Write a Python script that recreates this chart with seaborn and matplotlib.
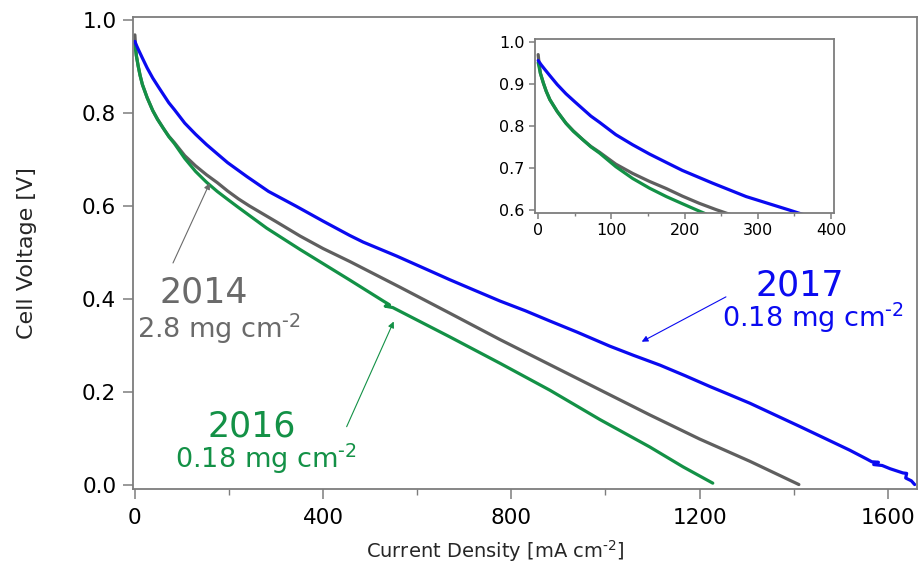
import matplotlib
matplotlib.use("Agg")
import matplotlib.pyplot as plt
import seaborn as sns
import pandas as pd
from matplotlib.ticker import MultipleLocator

# ---------------- data ----------------
blue_j = [0, 4, 9, 16, 26, 38, 50, 61, 72, 84, 106, 129, 152, 175, 197, 238, 284, 343, 400,
          457, 485, 556, 627, 669, 720, 776, 830, 882, 940, 1009, 1060, 1116, 1170, 1222,
          1260, 1307, 1360, 1413, 1465, 1519, 1555, 1566, 1580, 1570, 1588, 1605, 1632,
          1640, 1638, 1650, 1657]
blue_v = [0.955, 0.945, 0.934, 0.919, 0.898, 0.876, 0.857, 0.840, 0.823, 0.808, 0.779, 0.755,
          0.733, 0.713, 0.694, 0.664, 0.632, 0.600, 0.568, 0.537, 0.523, 0.493, 0.461, 0.442,
          0.420, 0.396, 0.375, 0.353, 0.329, 0.299, 0.279, 0.258, 0.235, 0.212, 0.196, 0.176,
          0.151, 0.126, 0.101, 0.075, 0.056, 0.050, 0.049, 0.044, 0.042, 0.035, 0.026, 0.025,
          0.015, 0.009, 0.001]

gray_j = [0, 1, 3, 7, 11, 16, 26, 38, 48, 61, 72, 84, 106, 129, 152, 175, 197, 220, 243, 300,
          351, 400, 457, 563, 669, 776, 882, 988, 1094, 1200, 1307, 1411]
gray_v = [0.969, 0.952, 0.925, 0.902, 0.882, 0.862, 0.834, 0.806, 0.788, 0.767, 0.751, 0.737,
          0.709, 0.687, 0.668, 0.651, 0.633, 0.616, 0.601, 0.567, 0.536, 0.509, 0.481, 0.426,
          0.370, 0.313, 0.259, 0.205, 0.151, 0.099, 0.051, 0.001]

green_j = [0, 3, 7, 11, 16, 26, 38, 48, 61, 72, 84, 106, 129, 152, 175, 197, 218, 280, 351,
           457, 528, 541, 532, 548, 669, 776, 882, 988, 1094, 1165, 1228]
green_v = [0.950, 0.925, 0.902, 0.882, 0.862, 0.834, 0.806, 0.787, 0.767, 0.750, 0.735, 0.703,
           0.675, 0.652, 0.632, 0.615, 0.599, 0.553, 0.507, 0.441, 0.396, 0.388, 0.385, 0.382,
           0.319, 0.262, 0.204, 0.141, 0.082, 0.039, 0.004]

main_xticks = [0, 400, 800, 1200, 1600]
main_yticks = [0.0, 0.2, 0.4, 0.6, 0.8, 1.0]
inset_xticks = [0, 100, 200, 300, 400]
inset_yticks = [0.6, 0.7, 0.8, 0.9, 1.0]

BLUE = "#0a0af0"
GRAY = "#5f5f5f"
GREEN = "#139146"
TGRAY = "#6a6a6a"
SPINE = "#7d7d7d"
SUP = "\u2010" + "2"   # hyphen + 2 for the superscript

# ---------------- style ----------------
sns.set_theme(style="ticks")
plt.rcParams["font.family"] = ["DejaVu Sans"]
plt.rcParams["mathtext.fontset"] = "dejavusans"
plt.rcParams["mathtext.default"] = "regular"

fig = plt.figure(figsize=(9.18, 5.72), dpi=100)
L, R, T, B = 133, 917, 17, 489
ax = fig.add_axes([L / 918, 1 - B / 572, (R - L) / 918, (B - T) / 572])

series = [(gray_j, gray_v, GRAY), (green_j, green_v, GREEN), (blue_j, blue_v, BLUE)]


def draw(a, lw):
    for xj, yv, c in series:
        df = pd.DataFrame({"j": xj, "v": yv})
        sns.lineplot(data=df, x="j", y="v", ax=a, color=c, lw=lw, sort=False,
                     estimator=None, legend=False, solid_joinstyle="round",
                     solid_capstyle="round")


def style_axes(a, lab_size, major_len, minor_len, xpad, ypad):
    for s in a.spines.values():
        s.set_color(SPINE)
        s.set_linewidth(1.3)
        s.set_visible(True)
    a.tick_params(which="major", direction="out", length=major_len, width=1.1,
                  color=SPINE, labelsize=lab_size, labelcolor="black")
    a.tick_params(axis="x", which="major", pad=xpad)
    a.tick_params(axis="y", which="major", pad=ypad)
    a.tick_params(which="minor", direction="out", length=minor_len, width=1.0, color=SPINE)


draw(ax, 2.3)
ax.set_xlim(-4, 1662)
ax.set_ylim(-0.0086, 1.0075)
ax.set_xticks(main_xticks)
ax.set_yticks(main_yticks)
ax.xaxis.set_minor_locator(MultipleLocator(200))
ax.set_xticklabels([str(t) for t in main_xticks])
ax.set_yticklabels([f"{t:.1f}" for t in main_yticks])
style_axes(ax, 15.5, 7, 4, 7, 5)
ax.set_xlabel("Current Density [mA cm$^{" + SUP + "}$]", fontsize=14)
ax.set_ylabel("Cell Voltage [V]", fontsize=16)
ax.xaxis.set_label_coords(0.462, -0.104)
ax.yaxis.set_label_coords(-0.122, 0.5)

# annotations
ax.text(146.6, 0.392, "2014", fontsize=25, color=TGRAY, ha="center", va="baseline")
ax.text(4, 0.316, "2.8 mg cm$^{" + SUP + "}$", fontsize=19.5, color=TGRAY,
        ha="left", va="baseline")
ax.text(248.6, 0.104, "2016", fontsize=25, color=GREEN, ha="center", va="baseline")
ax.text(85, 0.037, "0.18 mg cm$^{" + SUP + "}$", fontsize=19.5, color=GREEN,
        ha="left", va="baseline")
ax.text(1413, 0.409, "2017", fontsize=25, color=BLUE, ha="center", va="baseline")
ax.text(1247, 0.341, "0.18 mg cm$^{" + SUP + "}$", fontsize=19.5, color=BLUE,
        ha="left", va="baseline")

arrow_kw = dict(arrowstyle="-|>", lw=0.8, mutation_scale=9, shrinkA=0, shrinkB=0)
ax.annotate("", xy=(159, 0.650), xytext=(81, 0.478),
            arrowprops=dict(color=TGRAY, **arrow_kw))
ax.annotate("", xy=(550, 0.352), xytext=(450, 0.1255),
            arrowprops=dict(color=GREEN, **arrow_kw))
ax.annotate("", xy=(1077, 0.3085), xytext=(1256, 0.405),
            arrowprops=dict(color=BLUE, **arrow_kw))

# ---------------- inset ----------------
iL, iR, iT, iB = 534.5, 834, 39, 213
axin = fig.add_axes([iL / 918, 1 - iB / 572, (iR - iL) / 918, (iB - iT) / 572])
draw(axin, 2.3)
axin.set_xlim(-5, 404)
axin.set_ylim(0.593, 1.006)
axin.set_xticks(inset_xticks)
axin.set_yticks(inset_yticks)
axin.xaxis.set_minor_locator(MultipleLocator(50))
axin.set_xticklabels([str(t) for t in inset_xticks])
axin.set_yticklabels([f"{t:.1f}" for t in inset_yticks])
axin.set_xlabel("")
axin.set_ylabel("")
style_axes(axin, 11.5, 4, 2.5, 3, 3)
axin.patch.set_facecolor("white")

fig.savefig("out.png", dpi=100)
